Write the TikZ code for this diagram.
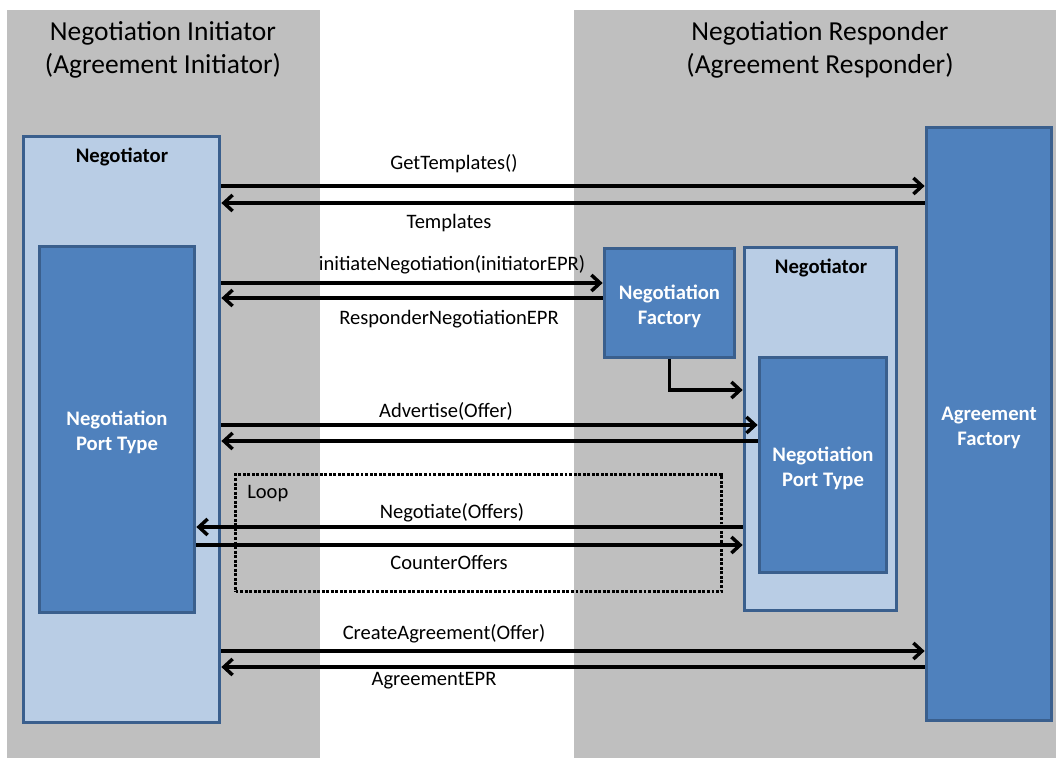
\documentclass[tikz,border=0pt]{standalone}
\usepackage{fontspec}
\setmainfont{Carlito}
\usetikzlibrary{arrows.meta}
\definecolor{panelgray}{HTML}{BFBFBF}
\definecolor{lightblue}{HTML}{B9CDE5}
\definecolor{darkblue}{HTML}{4F81BD}
\definecolor{borderblue}{HTML}{3A5F8D}
\tikzset{
  panel/.style={fill=panelgray, draw=none, inner sep=0pt, outer sep=0pt},
  lightbox/.style={fill=lightblue, draw=borderblue, line width=2.8pt, inner sep=0pt},
  darkbox/.style={fill=darkblue, draw=borderblue, line width=2.8pt, inner sep=0pt},
  boxtext/.style={text=white, font=\fontsize{15.5}{18.75}\selectfont\bfseries, align=center},
  boxtitle/.style={font=\fontsize{15.5}{18.75}\selectfont\bfseries},
  header/.style={font=\fontsize{20.6}{24.75}\selectfont, align=center},
  lbl/.style={font=\fontsize{15.4}{18}\selectfont, inner sep=0pt},
  arr/.style={line width=2.6pt, -{Straight Barb[length=6.5pt,width=12pt,line width=2.6pt]}},
  loopbox/.style={draw, line width=2.8pt, dash pattern=on 2.2pt off 1.2pt, inner sep=0pt, fill=none}
}
\begin{document}
\begin{tikzpicture}[x=0.75pt,y=-0.75pt]
\useasboundingbox (0,0) rectangle (1056,758);
% panels
\node[panel, minimum width=234.75pt, minimum height=561pt] (pL) at (163.5,384) {};
\node[panel, minimum width=361.5pt, minimum height=561pt] (pR) at (815,384) {};
\node[header] (hL) at (163,50) {Negotiation Initiator\\(Agreement Initiator)};
\node[header] (hR) at (820,50) {Negotiation Responder\\(Agreement Responder)};
% boxes
\node[lightbox, minimum width=147pt, minimum height=439.5pt] (negL) at (121.5,429.5) {};
\node[boxtitle] (tNegL) at (122,157) {Negotiator};
\node[darkbox, minimum width=116.25pt, minimum height=274.5pt] (ptL) at (117,429.5) {};
\node[boxtext] (tptL) at (117,432) {Negotiation\\Port Type};
\node[darkbox, minimum width=93.75pt, minimum height=444.75pt] (af) at (989,424) {};
\node[boxtext] (taf) at (989,428) {Agreement\\Factory};
\node[darkbox, minimum width=97.5pt, minimum height=81.75pt] (nf) at (669.5,303) {};
\node[boxtext] (tnf) at (669.5,306) {Negotiation\\Factory};
\node[lightbox, minimum width=114pt, minimum height=272.25pt] (negR) at (820.5,429) {};
\node[boxtitle] (tNegR) at (821,268) {Negotiator};
\node[darkbox, minimum width=95.25pt, minimum height=161.25pt] (ptR) at (823,465) {};
\node[boxtext] (tptR) at (823,468) {Negotiation\\Port Type};
% y levels
\coordinate (y1) at (0,186);
\coordinate (y2) at (0,203);
\coordinate (y3) at (0,283);
\coordinate (y4) at (0,298);
\coordinate (y5) at (0,390);
\coordinate (y6) at (0,425);
\coordinate (y7) at (0,441);
\coordinate (y8) at (0,527);
\coordinate (y9) at (0,545);
\coordinate (y10) at (0,651);
\coordinate (y11) at (0,667);
% arrows
\draw[arr] (negL.east |- y1) -- (af.west |- y1);
\draw[arr] (af.west |- y2) -- (negL.east |- y2);
\draw[arr] (negL.east |- y3) -- (nf.west |- y3);
\draw[arr] (nf.west |- y4) -- (negL.east |- y4);
\draw[arr] (nf.south) |- (negR.west |- y5);
\draw[arr] (negL.east |- y6) -- (ptR.west |- y6);
\draw[arr] (ptR.west |- y7) -- (negL.east |- y7);
\draw[arr] (negR.west |- y8) -- (ptL.east |- y8);
\draw[arr] (ptL.east |- y9) -- (negR.west |- y9);
\draw[arr] (negL.east |- y10) -- (af.west |- y10);
\draw[arr] (af.west |- y11) -- (negL.east |- y11);
% loop
\node[loopbox, minimum width=364.5pt, minimum height=87.75pt] (loop) at (478.5,533) {};
\node[lbl, anchor=west] (tLoop) at (247,494) {Loop};
% labels
\node[lbl] (l1) at (454,164) {GetTemplates()};
\node[lbl] (l2) at (449,223) {Templates};
\node[lbl] (l3) at (452,265) {initiateNegotiation(initiatorEPR)};
\node[lbl] (l4) at (449,319) {ResponderNegotiationEPR};
\node[lbl] (l5) at (446,411) {Advertise(Offer)};
\node[lbl] (l6) at (452,513) {Negotiate(Offers)};
\node[lbl] (l7) at (449,562) {CounterOffers};
\node[lbl] (l8) at (444,634) {CreateAgreement(Offer)};
\node[lbl] (l9) at (434,681) {AgreementEPR};
\end{tikzpicture}
\end{document}
